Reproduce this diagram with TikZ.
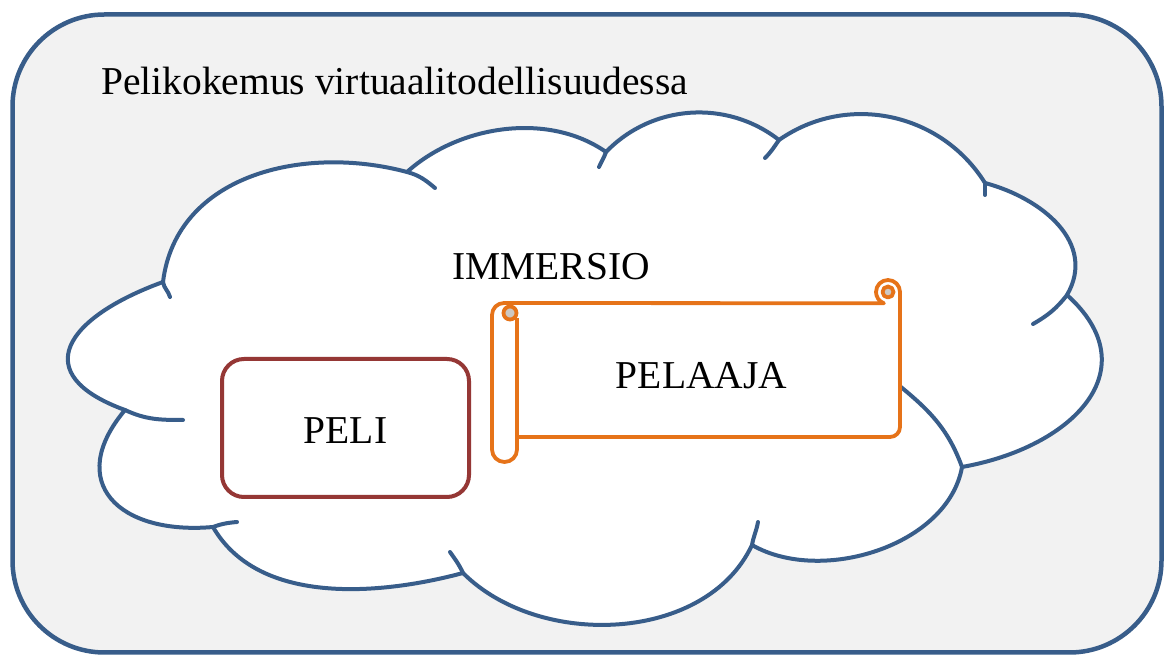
\documentclass[tikz,border=0pt]{standalone}
\usepackage{fontspec}
\setmainfont{Liberation Serif}
\definecolor{bluel}{HTML}{385D8A}
\definecolor{bgfill}{HTML}{F2F2F2}
\definecolor{pelired}{HTML}{953735}
\definecolor{scrollor}{RGB}{230,115,25}
\definecolor{curlgray}{RGB}{205,200,195}
\begin{document}
\begin{tikzpicture}[x=1pt,y=1pt,
  lbl/.style={font=\fontsize{39.5}{46}\selectfont, inner sep=0pt},
  cloudline/.style={draw=bluel, line width=4pt, line join=round, line cap=round},
  scrollline/.style={draw=scrollor, line width=3.8pt, line join=round},
  pelibox/.style={draw=pelired, line width=4pt, rounded corners=22pt, fill=white,
    minimum width=247pt, minimum height=138pt, font=\fontsize{39.5}{46}\selectfont,
    text height=31pt, text depth=0pt, inner sep=0pt}]
\useasboundingbox (0,0) rectangle (1164,655);
% outer frame
\draw[draw=bluel, fill=bgfill, line width=4.5pt, rounded corners=92pt] (12.5,2.5) rectangle (1161.5,640.5);
% cloud cusps
\coordinate (A) at (163,373);
\coordinate (B) at (407,483);
\coordinate (C) at (606,503);
\coordinate (D) at (779,515);
\coordinate (E) at (985,472);
\coordinate (F) at (1067,360);
\coordinate (G) at (962,188);
\coordinate (H) at (752,110);
\coordinate (I) at (463,82);
\coordinate (J) at (213,128);
\coordinate (K) at (125,245);
\path[cloudline, fill=white] (A) to[out=83,in=165,looseness=1.03] (B)
 to[out=42,in=145,looseness=0.9] (C)
 to[out=46,in=142,looseness=0.98] (D)
 to[out=35,in=122,looseness=1.01] (E)
 to[out=-15,in=60,looseness=1.1] (F)
 to[out=-42,in=10,looseness=1.42] (G)
 to[out=-100,in=-30,looseness=0.91] (H)
 to[out=-115,in=-45,looseness=0.95] (I)
 to[out=195,in=-60,looseness=0.9] (J)
 to[out=185,in=230,looseness=1.65] (K)
 to[out=160,in=200,looseness=2.0] (A) -- cycle;
% hooks
\coordinate (hA) at (170,358);
\coordinate (hB) at (435,467);
\coordinate (hC) at (599,488);
\coordinate (hD) at (765,497);
\coordinate (hE) at (985,460);
\coordinate (hF) at (1033,331);
\coordinate (hG) at (896,272);
\coordinate (hH) at (758,133);
\coordinate (hI) at (450,103);
\coordinate (hJ) at (237,133);
\coordinate (hK) at (183,235);
\draw[cloudline] (A) to[out=-82,in=105] (hA);
\draw[cloudline] (B) to[out=-15,in=140] (hB);
\draw[cloudline] (C) to[out=-110,in=65] (hC);
\draw[cloudline] (D) to[out=-125,in=45] (hD);
\draw[cloudline] (E) -- (hE);
\draw[cloudline] (F) to[out=-128,in=30] (hF);
\draw[cloudline] (G) to[out=110,in=-39] (hG);
\draw[cloudline] (H) to[out=80,in=-100] (hH);
\draw[cloudline] (I) to[out=115,in=-55] (hI);
\draw[cloudline] (J) to[out=20,in=185] (hJ);
\draw[cloudline] (K) to[out=-25,in=180] (hK);
% scroll (PELAAJA)
\path[scrollline, fill=white] (504,352) arc[start angle=90,end angle=180,radius=12pt]
  -- (492,205.5) arc[start angle=180,end angle=360,radius=12.5pt]
  -- (517,218) -- (890,218) arc[start angle=270,end angle=360,radius=10pt]
  -- (900,363) arc[start angle=0,end angle=250,radius=12pt] -- cycle;
\draw[scrollline] (517,218) -- (517,337);
\draw[scrollline, fill=curlgray] (510,342) circle[radius=6.5pt];
\draw[scrollline, fill=curlgray] (888,363) circle[radius=5.5pt];
% texts
\node[lbl, anchor=base west] (title) at (101,560) {Pelikokemus virtuaalitodellisuudessa};
\node[lbl, anchor=base] (imm) at (551,375) {IMMERSIO};
\node[lbl, anchor=base] (pelaaja) at (701.5,266) {PELAAJA};
\node[pelibox] (peli) at (345.5,227) {PELI};
\end{tikzpicture}
\end{document}
